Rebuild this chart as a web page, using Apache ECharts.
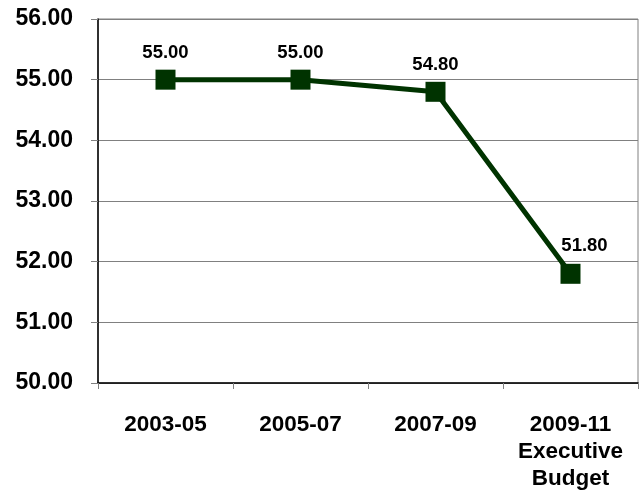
<!DOCTYPE html>
<html>
<head>
<meta charset="utf-8">
<script src="https://cdn.jsdelivr.net/npm/echarts@6/dist/echarts.min.js"></script>
<style>
html,body{margin:0;padding:0;background:#fff;}
#chart{width:644px;height:491px;}
</style>
</head>
<body>
<div id="chart"></div>
<script>
const categories = ['2003-05', '2005-07', '2007-09', '2009-11\nExecutive\nBudget'];
const values = [55.00, 55.00, 54.80, 51.80];
const yMin = 50, yMax = 56, yInterval = 1;

const seriesData = values.map((v, i) => i === values.length - 1
  ? {value: v, label: {offset: [14, -1]}}
  : {value: v});

const chart = echarts.init(document.getElementById('chart'), null, {renderer: 'canvas'});
chart.setOption({
  animation: false,
  backgroundColor: '#ffffff',
  grid: {left: 98, right: 6, top: 19, bottom: 108, show: true, borderColor: '#808080', borderWidth: 1,
         containLabel: false, outerBoundsMode: 'none'},
  xAxis: {
    type: 'category',
    data: categories,
    boundaryGap: true,
    axisLine: {show: true, lineStyle: {color: '#000000', width: 1.5}},
    axisTick: {show: true, interval: 0, length: 6, lineStyle: {color: '#808080'}},
    axisLabel: {
      interval: 0,
      hideOverlap: false,
      margin: 28,
      color: '#000000',
      fontFamily: 'Liberation Sans, Arial, sans-serif',
      fontWeight: 'bold',
      fontSize: 22.5,
      lineHeight: 27
    },
    splitLine: {show: false}
  },
  yAxis: {
    type: 'value',
    min: yMin, max: yMax, interval: yInterval,
    axisLine: {show: true, lineStyle: {color: '#000000', width: 1.5}},
    axisTick: {show: true, length: 7, lineStyle: {color: '#808080'}},
    axisLabel: {
      margin: 25,
      color: '#000000',
      fontFamily: 'Liberation Sans, Arial, sans-serif',
      fontWeight: 'bold',
      fontSize: 23,
      formatter: v => v.toFixed(2)
    },
    splitLine: {show: true, lineStyle: {color: '#808080', width: 1}}
  },
  series: [{
    type: 'line',
    data: seriesData,
    symbol: 'rect',
    symbolSize: 20,
    lineStyle: {color: '#003300', width: 5},
    itemStyle: {color: '#003300'},
    label: {
      show: true,
      position: 'top',
      distance: 7,
      color: '#000000',
      fontFamily: 'Liberation Sans, Arial, sans-serif',
      fontWeight: 'bold',
      fontSize: 18.5,
      formatter: p => p.value.toFixed(2)
    }
  }]
});
</script>
</body>
</html>
